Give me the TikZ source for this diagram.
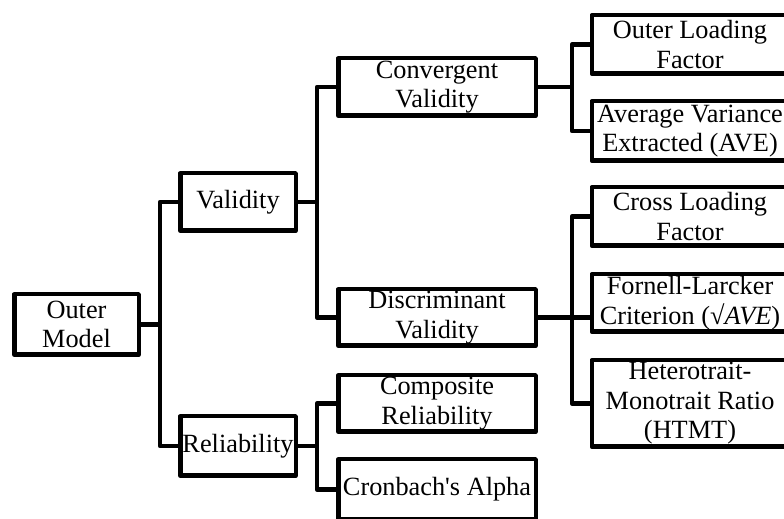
\documentclass[tikz,border=0pt]{standalone}
\usepackage{fontspec}
\setmainfont{Liberation Serif}
\newfontfamily\rawserif{Liberation Serif}[Ligatures=TeXOff]
\begin{document}
\begin{tikzpicture}[x=1pt,y=1pt,
  box/.style={draw=black, line width=4.5pt, line join=round, align=center, inner sep=0pt,
    font=\fontsize{26.3}{29.5}\selectfont, fill=white},
  conn/.style={draw=black, line width=4.5pt, line join=round}]
\useasboundingbox (0,0) rectangle (784,519);
\fill[white] (0,0) rectangle (784,519);
% level 0
\node[box, minimum width=124.5pt, minimum height=60.5pt] (om) at (76.5,194.5) {Outer\\Model};
% level 1
\node[box, minimum width=115.5pt, minimum height=57.5pt] (val) at (238,317) {Validity};
\node[box, minimum width=115.5pt, minimum height=59.5pt] (rel) at (238,73) {Reliability};
% level 2
\node[box, minimum width=197.5pt, minimum height=57.5pt] (conv) at (437,432) {Convergent\\Validity};
\node[box, minimum width=197.5pt, minimum height=56.5pt] (disc) at (437,201.5) {Discriminant\\Validity};
\node[box, minimum width=197.5pt, minimum height=56.5pt] (comp) at (437,115.5) {Composite\\Reliability};
\node[box, minimum width=197.5pt, minimum height=60.5pt] (cron) at (437,29.5) {Cronbach{\rawserif'}s Alpha};
% level 3
\node[box, minimum width=196.5pt, minimum height=58.5pt] (olf) at (690,474.5) {Outer Loading\\Factor};
\node[box, minimum width=196.5pt, minimum height=59.5pt] (ave) at (690,388) {Average Variance\\Extracted (AVE)};
\node[box, minimum width=196.5pt, minimum height=58.5pt] (clf) at (690,302.5) {Cross Loading\\Factor};
\node[box, minimum width=196.5pt, minimum height=57.5pt] (flc) at (690,216) {Fornell-Larcker\\Criterion (√\textit{AVE})};
\node[box, minimum width=196.5pt, minimum height=86.5pt] (htmt) at (690,115.5) {Heterotrait-\\Monotrait Ratio\\(HTMT)};
% connectors
\coordinate (t0) at (160,194.5);
\coordinate (t1) at (317,317);
\coordinate (t2) at (317,73);
\coordinate (t3) at (572,432);
\coordinate (t4) at (572,201.5);
\draw[conn] (om.east) -- (t0);
\draw[conn] (val.west) -| (t0) |- (rel.west);
\draw[conn] (val.east) -- (t1);
\draw[conn] (conv.west) -| (t1) |- (disc.west);
\draw[conn] (rel.east) -- (t2);
\draw[conn] (comp.west) -| (t2) |- (cron.west);
\draw[conn] (conv.east) -- (t3);
\draw[conn] (olf.west) -| (t3) |- (ave.west);
\draw[conn] (disc.east) -- (t4);
\draw[conn] (clf.west) -| (t4) |- (htmt.west);
\draw[conn] (t4) -- (t4 -| flc.west);
\end{tikzpicture}
\end{document}
